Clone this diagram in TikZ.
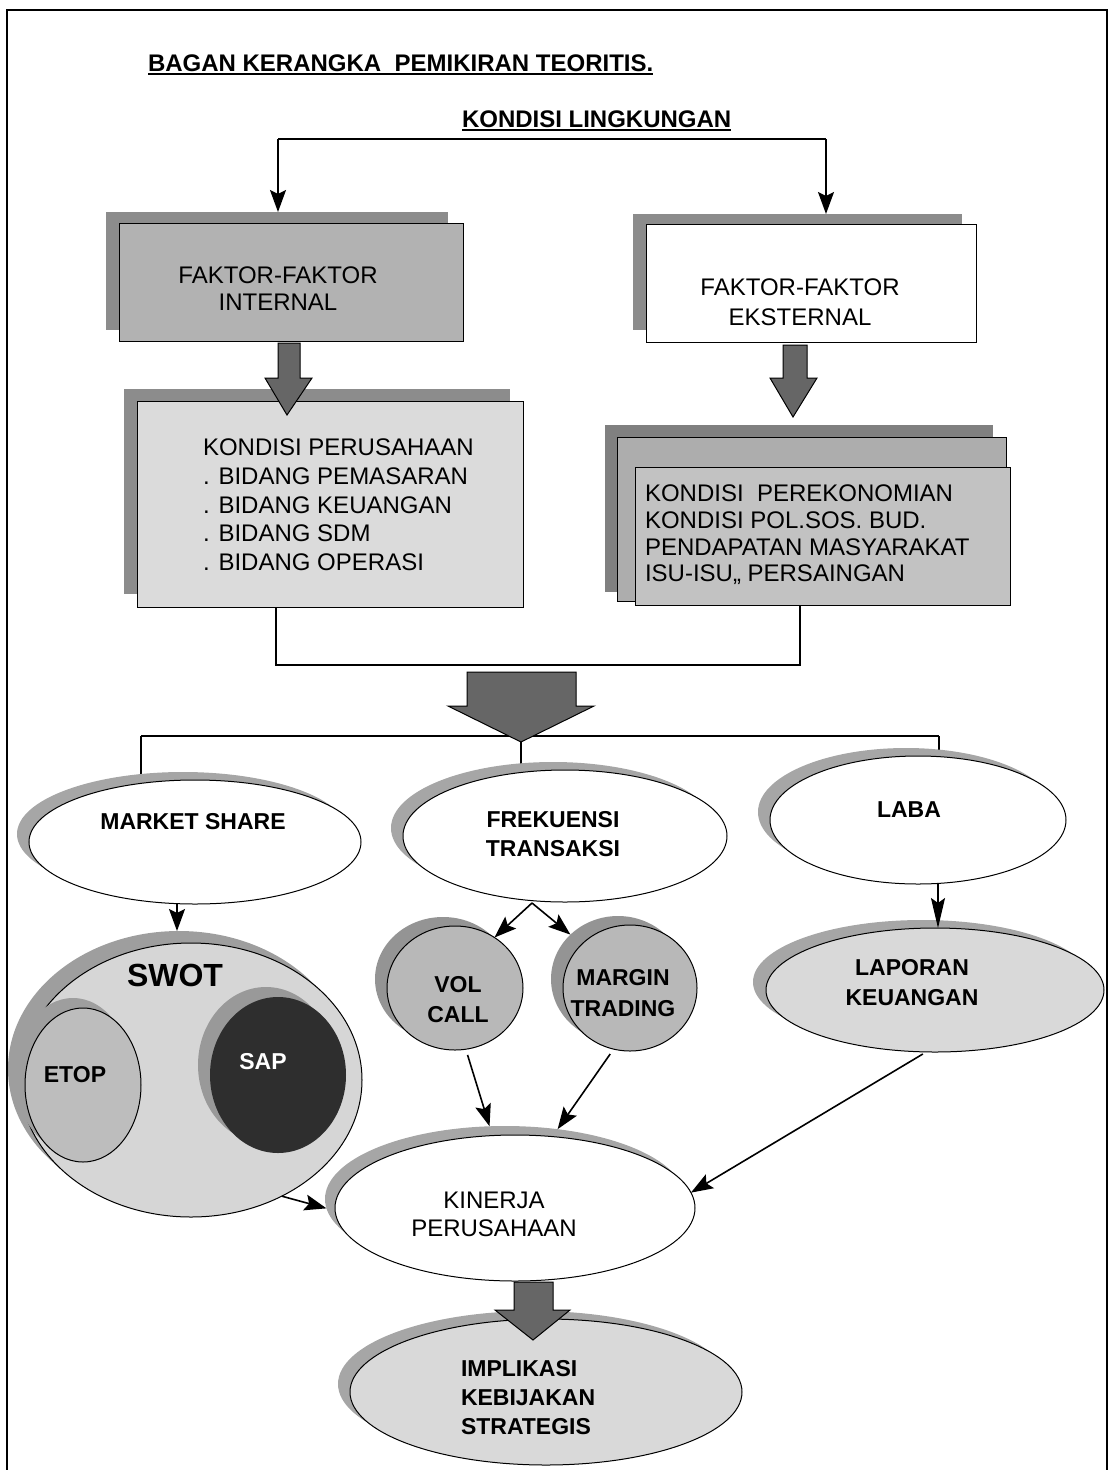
\documentclass[tikz,border=0pt]{standalone}
\usepackage{fontspec}
\setmainfont{Liberation Sans}
\usetikzlibrary{shapes.geometric,arrows.meta}
\pgfdeclarelayer{bg}
\pgfsetlayers{bg,main}
\begin{document}
\begin{tikzpicture}[x=1pt,y=-1pt,
  every node/.style={inner sep=0pt, outer sep=0pt},
  ln/.style={line width=1.5pt},
  arr/.style={line width=1.6pt, -{Stealth[length=22pt,width=16pt,inset=4pt]}},
  longarr/.style={line width=1.6pt, -{Stealth[length=30pt,width=14pt,inset=5pt]}},
  ell/.style={ellipse, draw, line width=1pt},
  esh/.style={ellipse, fill=black!35},
  box/.style={rectangle, draw, line width=1pt, anchor=north west},
  boxsh/.style={rectangle, anchor=north west},
  reg/.style={font=\fontsize{24}{27}\selectfont, align=center},
  bld/.style={font=\bfseries\fontsize{23}{29}\selectfont, align=center},
  barrow/.style={draw, line width=1pt, fill=black!60},
  uline/.style={line width=1.4pt}
]
\useasboundingbox (0,0) rectangle (1114,1470);

% frame
\draw[line width=1.5pt] (7,1470) -- (7,10) -- (1107,10) -- (1107,1470);

% titles
\node[anchor=base west, font=\bfseries\fontsize{24}{28}\selectfont] (title) at (148,71) {BAGAN KERANGKA\ \ PEMIKIRAN TEORITIS.};
\draw[uline] ([yshift=-3pt]title.base west) -- ([yshift=-3pt]title.base east);
\node[anchor=base west, font=\bfseries\fontsize{24}{28}\selectfont] (kl) at (462,127) {KONDISI LINGKUNGAN};
\draw[uline] ([yshift=-3pt]kl.base west) -- ([yshift=-3pt]kl.base east);

\coordinate (lt) at (278,139);
\coordinate (rt) at (826,139);
\coordinate (bl) at (276,665);
\coordinate (br) at (800,665);
\coordinate (jl) at (141,736);
\coordinate (jm) at (521,736);
\coordinate (jr) at (939,736);
\coordinate (apex) at (532,903);

% top boxes
\node[boxsh, fill=black!45, minimum width=342pt, minimum height=118pt] (intS) at (106,212) {};
\node[box, fill=black!30, minimum width=344pt, minimum height=118pt] (int) at (119,223) {};
\node[reg] (tint) at (278,289) {FAKTOR-FAKTOR\\INTERNAL};

\node[boxsh, fill=black!45, minimum width=329pt, minimum height=116pt] (extS) at (633,214) {};
\node[box, fill=white, minimum width=330pt, minimum height=118pt] (ext) at (646,224) {};
\node[reg, font=\fontsize{24}{30}\selectfont] (text) at (800,302) {FAKTOR-FAKTOR\\EKSTERNAL};

% second row boxes
\node[boxsh, fill=black!45, minimum width=386pt, minimum height=205pt] (kpS) at (124,389) {};
\node[box, fill=black!14, minimum width=386pt, minimum height=206pt] (kp) at (137,401) {};
\node[anchor=west, align=left, font=\fontsize{24}{28.7}\selectfont] (tkp) at (203,505) {KONDISI PERUSAHAAN\\. BIDANG PEMASARAN\\. BIDANG KEUANGAN\\. BIDANG SDM\\. BIDANG OPERASI};

\node[boxsh, fill=black!50, minimum width=388pt, minimum height=167pt] (stS) at (605,425) {};
\node[box, fill=black!32, minimum width=389pt, minimum height=164pt] (stM) at (617,437) {};
\node[box, fill=black!24, minimum width=375pt, minimum height=138pt] (st) at (635,467) {};
\node[anchor=west, align=left, font=\fontsize{24}{26.7}\selectfont] (tst) at (645,535) {KONDISI\ \ PEREKONOMIAN\\KONDISI POL.SOS. BUD.\\PENDAPATAN MASYARAKAT\\ISU-ISU,, PERSAINGAN};

% row of ellipses
\node[esh, minimum width=332pt, minimum height=124pt] (mktS) at (183,834) {};
\node[ell, fill=white, minimum width=332pt, minimum height=124pt] (mkt) at (195,842) {};
\node[bld] (tmkt) at (193,822) {MARKET SHARE};

\node[esh, minimum width=324pt, minimum height=132pt] (freqS) at (553,828) {};
\node[ell, fill=white, minimum width=324pt, minimum height=132pt] (freq) at (565,836) {};
\node[bld] (tfreq) at (553,834) {FREKUENSI\\TRANSAKSI};

\node[esh, minimum width=296pt, minimum height=128pt] (labaS) at (906,812) {};
\node[ell, fill=white, minimum width=296pt, minimum height=128pt] (laba) at (918,820) {};
\node[bld] (tlaba) at (909,810) {LABA};

% SWOT group
\node[esh, fill=black!38, minimum width=342pt, minimum height=276pt] (swotS) at (179,1069) {};
\node[ell, fill=black!16, minimum width=342pt, minimum height=274pt] (swot) at (191,1080) {};
\node[font=\bfseries\fontsize{32}{36}\selectfont] (tswot) at (175,975) {SWOT};
\node[esh, fill=black!38, minimum width=116pt, minimum height=154pt] (etopS) at (73,1075) {};
\node[ell, fill=black!26, minimum width=116pt, minimum height=154pt] (etop) at (83,1085) {};
\node[bld] (tetop) at (75,1075) {ETOP};
\node[esh, fill=black!40, minimum width=136pt, minimum height=156pt] (sapS) at (266,1065) {};
\node[ellipse, fill=black!82, minimum width=136pt, minimum height=156pt] (sap) at (278,1075) {};
\node[bld, text=white] (tsap) at (263,1062) {SAP};

% VOL CALL / MARGIN TRADING
\node[esh, fill=black!42, minimum width=136pt, minimum height=124pt] (volS) at (443,979) {};
\node[ell, fill=black!28, minimum width=136pt, minimum height=124pt] (vol) at (455,988) {};
\node[bld, font=\bfseries\fontsize{23}{30}\selectfont] (tvol) at (458,1000) {VOL\\CALL};
\node[esh, fill=black!42, minimum width=134pt, minimum height=126pt] (marS) at (618,979) {};
\node[ell, fill=black!28, minimum width=134pt, minimum height=126pt] (mar) at (630,988) {};
\node[bld, font=\bfseries\fontsize{23}{31}\selectfont] (tmar) at (623,993) {MARGIN\\TRADING};

% LAPORAN
\node[esh, minimum width=338pt, minimum height=124pt] (lapS) at (922,982) {};
\node[ell, fill=black!15, minimum width=338pt, minimum height=124pt] (lap) at (935,990) {};
\node[bld, font=\bfseries\fontsize{23}{30}\selectfont] (tlap) at (912,983) {LAPORAN\\KEUANGAN};

% KINERJA
\node[esh, minimum width=360pt, minimum height=146pt] (kinS) at (505,1199) {};
\node[ell, fill=white, minimum width=360pt, minimum height=146pt] (kin) at (515,1208) {};
\node[reg, font=\fontsize{24}{28}\selectfont] (tkin) at (494,1214) {KINERJA\\PERUSAHAAN};

% IMPLIKASI
\node[esh, minimum width=392pt, minimum height=146pt] (impS) at (534,1384) {};
\node[ell, fill=black!15, minimum width=392pt, minimum height=146pt] (imp) at (546,1392) {};
\node[anchor=west, align=left, font=\bfseries\fontsize{23}{29}\selectfont] (timp) at (461,1398) {IMPLIKASI\\KEBIJAKAN\\STRATEGIS};

% plain connector lines behind shapes
\begin{pgfonlayer}{bg}
\draw[ln] (lt) -- (rt);
\draw[ln] (jl) -- (jr);
\draw[ln] (jl) -- (jl |- mkt.center);
\draw[ln] (jm) -- (jm |- freq.center);
\draw[ln] (jr) -- (jr |- laba.center);
\end{pgfonlayer}

% bracket
\draw[ln] (kp.south -| bl) -- (bl) -- (br) -- (br |- st.south);

% arrows
\draw[arr] (lt) -- (lt |- intS.north);
\draw[arr] (rt) -- (rt |- extS.north);
\draw[arr] ([xshift=-18pt]mkt.south) -- ([xshift=-18pt]mkt.south |- swotS.north);
\draw[longarr] ([xshift=20pt]laba.south) -- ([xshift=20pt]laba.south |- lap.north);
\draw[arr] (apex) -- (vol.52);
\draw[arr] (apex) -- (marS.137);
\draw[arr, shorten <=6pt] (vol.280) -- (kinS.102);
\draw[arr, shorten <=6pt] (mar.255) -- (kinS.53);
\draw[arr, shorten <=4pt] (lap.262) -- (kin.5);
\draw[arr] (swot.308) -- (kinS.183);

% block arrows
\draw[barrow] (278,343) -- (300,343) -- (300,378) -- (312,378) -- (287,415) -- (265,378) -- (278,378) -- cycle;
\draw[barrow] (783,345) -- (807,345) -- (807,378) -- (817,378) -- (793,417) -- (770,378) -- (783,378) -- cycle;
\draw[barrow] (467,672) -- (576,672) -- (576,706) -- (594,706) -- (521,742) -- (448,706) -- (467,706) -- cycle;
\draw[barrow] (514,1282) -- (553,1282) -- (553,1310) -- (570,1310) -- (533,1340) -- (495,1310) -- (514,1310) -- cycle;
\end{tikzpicture}
\end{document}
